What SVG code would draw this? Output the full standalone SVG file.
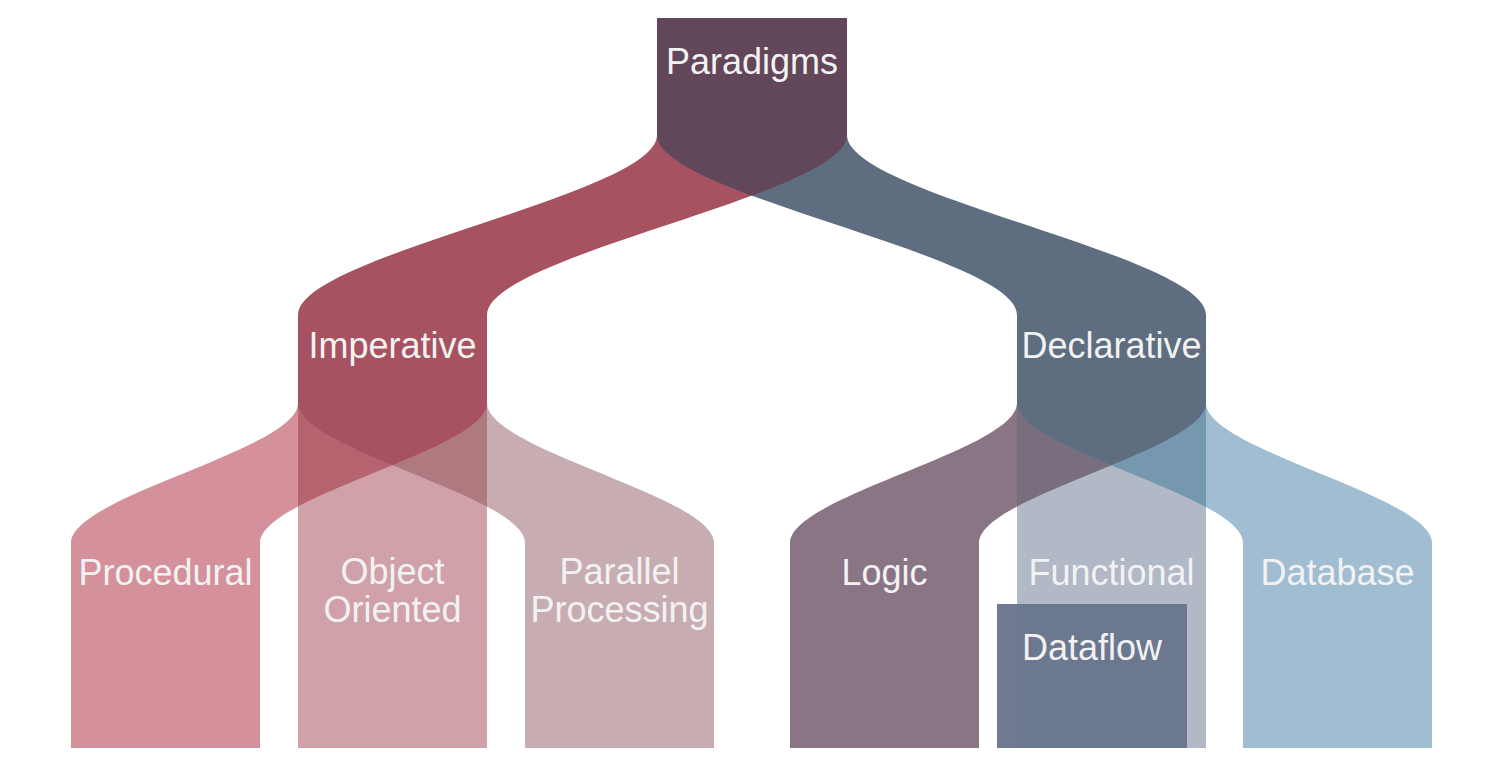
<svg xmlns="http://www.w3.org/2000/svg" width="1502" height="776" viewBox="0 0 1502 776">
<style>
text{font-family:"Liberation Sans",Helvetica,Arial,sans-serif;font-size:36px;fill:#f2f2f2;text-anchor:middle}
.paradigms{fill:#624659}
.imp{fill:#a65260}
.dec{fill:#5e6d7f}
.proc{fill:#d4909b}
.oo{fill:#d0a1a9}
.par{fill:#c7adb2}
.logic{fill:#897583}
.func{fill:#b1b8c6}
.db{fill:#a0bdd1}
.dataflow{fill:#67738c;fill-opacity:0.94}
</style>
<defs>
<path id="rib-imp" d="M657,135 C657,195 298,255 298,315 L487,315 C487,255 847,195 847,135 Z"/>
<path id="rib-dec" d="M657,135 C657,195 1017,255 1017,315 L1206,315 C1206,255 847,195 847,135 Z"/>
<path id="rib-proc" d="M298,403 C298,450 71,496 71,543 L260,543 C260,496 487,450 487,403 Z"/>
<path id="rib-par" d="M298,403 C298,450 525,496 525,543 L714,543 C714,496 487,450 487,403 Z"/>
<path id="rib-logic" d="M1017,403 C1017,450 790,496 790,543 L979,543 C979,496 1206,450 1206,403 Z"/>
<path id="rib-db" d="M1017,403 C1017,450 1243,496 1243,543 L1432,543 C1432,496 1206,450 1206,403 Z"/>
<clipPath id="clip-dec"><use href="#rib-dec"/></clipPath>
<clipPath id="clip-oo"><rect x="298" y="403" width="189" height="345"/></clipPath>
<clipPath id="clip-par"><use href="#rib-par"/></clipPath>
<clipPath id="clip-func"><rect x="1017" y="403" width="189" height="345"/></clipPath>
<clipPath id="clip-db"><use href="#rib-db"/></clipPath>
</defs>

<g id="node-paradigms">
<rect class="paradigms" x="657" y="18" width="190" height="117"/>
<text x="752" y="74">Paradigms</text>
</g>
<g id="node-imperative">
<rect class="imp" x="298" y="315" width="189" height="88"/>
<text x="392.5" y="358">Imperative</text>
</g>
<g id="node-declarative">
<rect class="dec" x="1017" y="315" width="189" height="88"/>
<text x="1111.5" y="358">Declarative</text>
</g>
<g id="node-procedural">
<rect class="proc" x="71" y="543" width="189" height="205"/>
<text x="165.5" y="585">Procedural</text>
</g>
<g id="node-object-oriented">
<rect class="oo" x="298" y="403" width="189" height="345"/>
<text x="392.5" y="584">Object</text>
<text x="392.5" y="622">Oriented</text>
</g>
<g id="node-parallel">
<rect class="par" x="525" y="543" width="189" height="205"/>
<text x="619.5" y="584">Parallel</text>
<text x="619.5" y="622">Processing</text>
</g>
<g id="node-logic">
<rect class="logic" x="790" y="543" width="189" height="205"/>
<text x="884.5" y="585">Logic</text>
</g>
<g id="node-functional">
<rect class="func" x="1017" y="403" width="189" height="345"/>
<text x="1111.5" y="585">Functional</text>
</g>
<g id="node-database">
<rect class="db" x="1243" y="543" width="189" height="205"/>
<text x="1337.5" y="585">Database</text>
</g>
<g id="node-dataflow">
<rect class="dataflow" x="997" y="604" width="190" height="144"/>
<text x="1092" y="660">Dataflow</text>
</g>

<g id="connectors">
<use href="#rib-imp" class="imp"/>
<use href="#rib-dec" class="dec"/>
<use href="#rib-imp" class="paradigms" clip-path="url(#clip-dec)"/>
<use href="#rib-proc" class="proc"/>
<use href="#rib-par" class="par"/>
<use href="#rib-proc" fill="#b5646f" clip-path="url(#clip-oo)"/>
<use href="#rib-par" fill="#ae7a80" clip-path="url(#clip-oo)"/>
<use href="#rib-proc" class="imp" clip-path="url(#clip-par)"/>
<use href="#rib-logic" class="logic"/>
<use href="#rib-db" class="db"/>
<use href="#rib-logic" fill="#786e7e" clip-path="url(#clip-func)"/>
<use href="#rib-db" fill="#7698ae" clip-path="url(#clip-func)"/>
<use href="#rib-logic" class="dec" clip-path="url(#clip-db)"/>
</g>
</svg>
